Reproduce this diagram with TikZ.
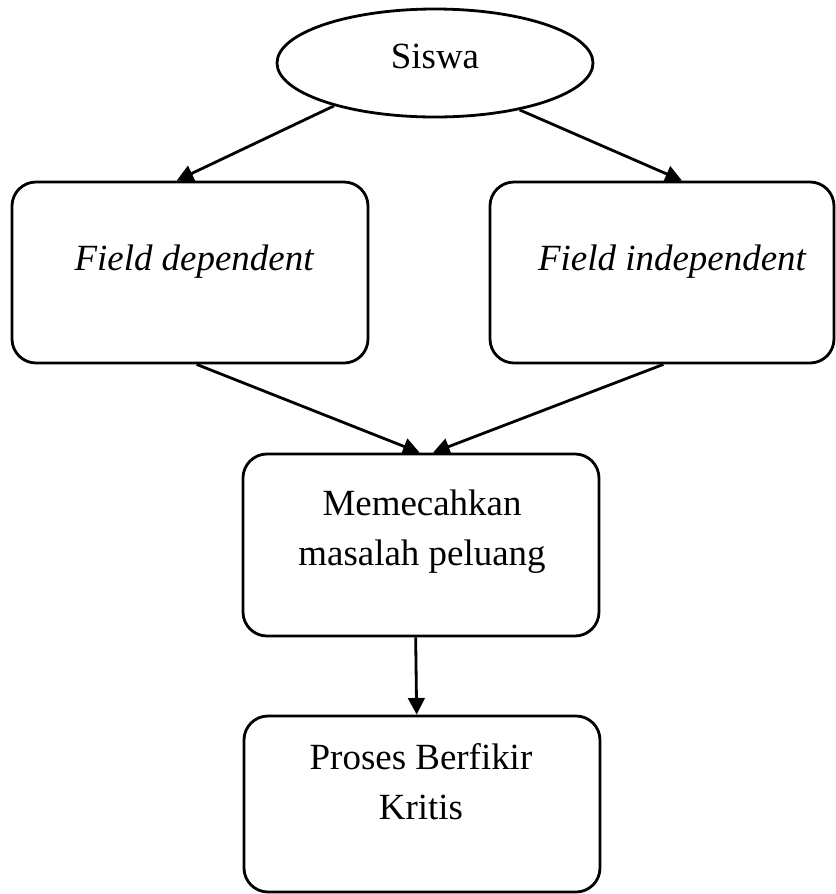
\documentclass[tikz,border=0pt]{standalone}
\usepackage{fontspec}
\setmainfont{Liberation Serif}
\usetikzlibrary{shapes.geometric, arrows.meta}

\begin{document}
\begin{tikzpicture}[x=0.75pt, y=-0.75pt, line width=2.1pt,
    every node/.style={font=\fontsize{27.7}{37.5}\selectfont}]
\tikzset{
    kotak/.style={draw, rounded corners=18pt, inner sep=0pt},
    teks/.style={align=center, inner sep=0pt},
    panah/.style={-{Triangle[length=12.5pt, width=12.5pt]}}
}
\useasboundingbox (0,0) rectangle (836,894);
% --- bentuk ---
\node[draw, ellipse, inner sep=0pt, minimum width=237pt, minimum height=81pt] (siswa) at (435,63) {};
\node[kotak, minimum width=267pt, minimum height=135.75pt] (fd) at (190,272.5) {};
\node[kotak, minimum width=258pt, minimum height=135.75pt] (fi) at (662,272.5) {};
\node[kotak, minimum width=267pt, minimum height=136.5pt] (m) at (421,545) {};
\node[kotak, minimum width=267pt, minimum height=132pt] (p) at (422,804) {};
% --- teks ---
\node[teks] (siswa-t) at (435,56) {Siswa};
\node[teks] (fd-t) at (194,262) {\itshape Field dependent};
\node[teks] (fi-t) at (672,262) {\itshape Field independent};
\node[teks] (m-t) at (422,532) {Memecahkan\\masalah peluang};
\node[teks] (p-t) at (421,782) {Proses Berfikir\\Kritis};
% --- panah ---
\draw[panah] (siswa.203) -- ([xshift=-10pt]fd.north);
\draw[panah] (siswa.331) -- ([xshift=15pt]fi.north);
\draw[panah] ([xshift=5pt]fd.south) -- ([xshift=-1pt]m.north);
\draw[panah] ([xshift=1pt]fi.south) -- ([xshift=9pt]m.north);
\draw[panah] ([xshift=-4pt]m.south) -- ([xshift=-4pt]p.north);
\end{tikzpicture}
\end{document}
